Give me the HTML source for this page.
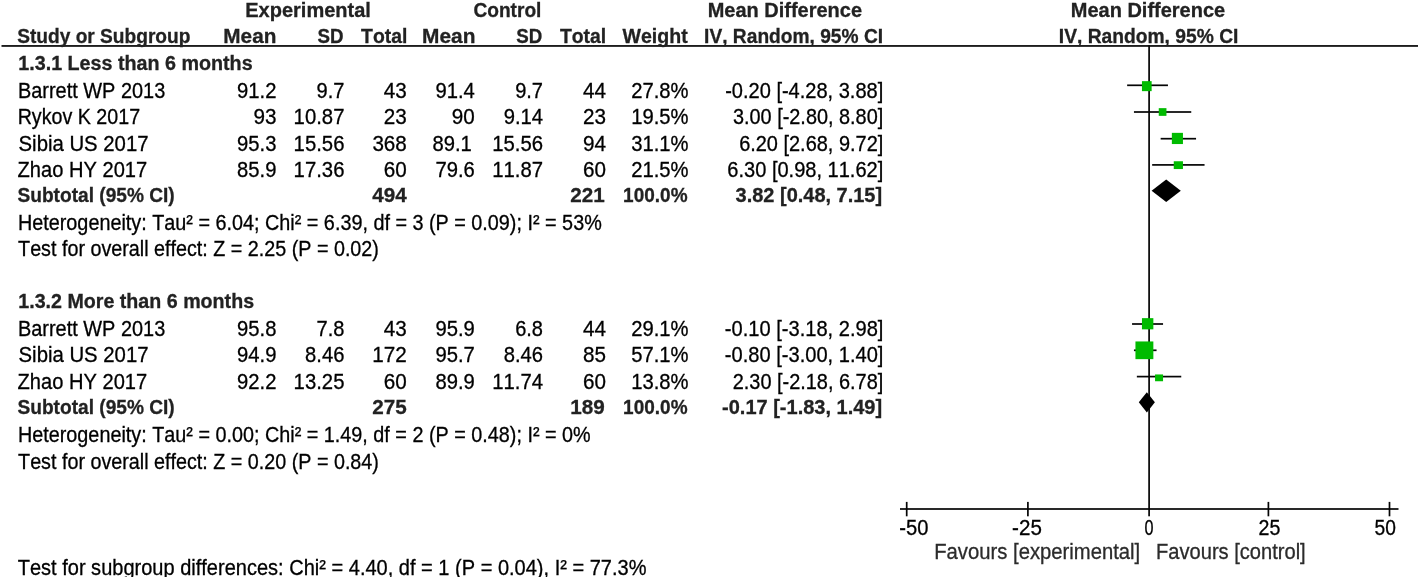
<!DOCTYPE html>
<html lang="en"><head><meta charset="utf-8"><title>Forest plot</title>
<style>
html,body{margin:0;padding:0;background:#fff;}
body{width:1418px;height:577px;overflow:hidden;}
svg{display:block;font-family:"Liberation Sans",Arial,sans-serif;font-kerning:none;}
text{white-space:pre;}
.n{fill:#000;stroke:#000;stroke-width:0.3px;font-weight:400;font-size:21.4px;}
.f{fill:#2b2b2b;stroke:#2b2b2b;}
.b{fill:#222;stroke:#222;stroke-width:0.3px;font-weight:700;font-size:21.1px;}
</style></head><body>
<svg width="1418" height="577" viewBox="0 0 1418 577">
<rect width="1418" height="577" fill="#fff"/>
<g shape-rendering="geometricPrecision">
<rect x="1.5" y="45.1" width="1416.5" height="1.7" fill="#050505"/>
<rect x="1148.25" y="45.1" width="1.7" height="471.20" fill="#050505"/>
<rect x="900" y="508.15" width="498.50" height="1.7" fill="#050505"/>
<rect x="905.85" y="501.9" width="1.7" height="14.4" fill="#050505"/>
<rect x="1027.05" y="501.9" width="1.7" height="14.4" fill="#050505"/>
<rect x="1267.55" y="501.9" width="1.7" height="14.4" fill="#050505"/>
<rect x="1388.65" y="501.9" width="1.7" height="14.4" fill="#050505"/>
<rect x="1127.15" y="84.45" width="40.80" height="1.7" fill="#050505"/>
<rect x="1141.95" y="81.15" width="9.70" height="10.00" fill="#00bb00"/>
<rect x="1133.95" y="111.15" width="57.30" height="1.7" fill="#050505"/>
<rect x="1158.75" y="108.15" width="7.70" height="7.70" fill="#00bb00"/>
<rect x="1160.65" y="137.85" width="35.40" height="1.7" fill="#050505"/>
<rect x="1171.85" y="132.85" width="11.10" height="11.20" fill="#00bb00"/>
<rect x="1152.15" y="164.05" width="52.40" height="1.7" fill="#050505"/>
<rect x="1173.75" y="161.25" width="9.20" height="7.80" fill="#00bb00"/>
<polygon points="1151.60,190.75 1166.20,179.40 1180.80,190.75 1166.20,202.10" fill="#000"/>
<rect x="1132.05" y="323.15" width="31.00" height="1.7" fill="#050505"/>
<rect x="1141.95" y="318.15" width="11.40" height="11.20" fill="#00bb00"/>
<rect x="1133.95" y="349.45" width="22.60" height="1.7" fill="#050505"/>
<rect x="1135.45" y="341.45" width="17.90" height="17.70" fill="#00bb00"/>
<rect x="1136.85" y="375.75" width="44.40" height="1.7" fill="#050505"/>
<rect x="1155.05" y="374.45" width="8.00" height="6.80" fill="#00bb00"/>
<polygon points="1138.80,402.30 1146.85,392.20 1154.90,402.30 1146.85,412.40" fill="#000"/>
</g>
<g>
<text class="b" transform="translate(245.25 16.55) scale(0.9488 1)">Experimental</text>
<text class="b" transform="translate(473.40 16.55) scale(0.9070 1)">Control</text>
<text class="b" transform="translate(707.65 16.55) scale(0.9476 1)">Mean Difference</text>
<text class="b" transform="translate(1070.75 16.55) scale(0.9482 1)">Mean Difference</text>
<text class="b" transform="translate(17.20 42.95) scale(0.9077 1)">Study or Subgroup</text>
<text class="b" transform="translate(223.30 42.95) scale(0.9846 1)">Mean</text>
<text class="b" transform="translate(317.61 42.95) scale(0.8885 1)">SD</text>
<text class="b" transform="translate(361.10 42.95) scale(0.9196 1)">Total</text>
<text class="b" transform="translate(422.09 42.95) scale(0.9904 1)">Mean</text>
<text class="b" transform="translate(516.21 42.95) scale(0.8885 1)">SD</text>
<text class="b" transform="translate(559.90 42.95) scale(0.9196 1)">Total</text>
<text class="b" transform="translate(622.50 42.95) scale(0.9272 1)">Weight</text>
<text class="b" transform="translate(704.10 42.95) scale(0.9089 1)">IV, Random, 95% CI</text>
<text class="b" transform="translate(1058.80 42.95) scale(0.9120 1)">IV, Random, 95% CI</text>
<text class="b" transform="translate(18.27 69.60) scale(0.9346 1)">1.3.1 Less than 6 months</text>
<text class="n" transform="translate(17.94 97.95) scale(0.9322 1)">Barrett WP 2013</text>
<text class="n" transform="translate(237.07 97.95) scale(0.9448 1)">91.2</text>
<text class="n" transform="translate(316.54 97.95) scale(0.9369 1)">9.7</text>
<text class="n" transform="translate(383.86 97.95) scale(0.9655 1)">43</text>
<text class="n" transform="translate(435.47 97.95) scale(0.9445 1)">91.4</text>
<text class="n" transform="translate(515.14 97.95) scale(0.9369 1)">9.7</text>
<text class="n" transform="translate(582.96 97.95) scale(0.9648 1)">44</text>
<text class="n" transform="translate(631.26 97.95) scale(0.9453 1)">27.8%</text>
<text class="n" transform="translate(725.17 97.95) scale(0.9365 1)">-0.20 [-4.28, 3.88]</text>
<text class="n" transform="translate(17.66 124.25) scale(0.9197 1)">Rykov K 2017</text>
<text class="n" transform="translate(253.43 124.25) scale(0.9669 1)">93</text>
<text class="n" transform="translate(293.60 124.25) scale(0.9492 1)">10.87</text>
<text class="n" transform="translate(383.83 124.25) scale(0.9669 1)">23</text>
<text class="n" transform="translate(451.83 124.25) scale(0.9662 1)">90</text>
<text class="n" transform="translate(503.67 124.25) scale(0.9445 1)">9.14</text>
<text class="n" transform="translate(582.93 124.25) scale(0.9669 1)">23</text>
<text class="n" transform="translate(631.25 124.25) scale(0.9454 1)">19.5%</text>
<text class="n" transform="translate(732.98 124.25) scale(0.9295 1)">3.00 [-2.80, 8.80]</text>
<text class="n" transform="translate(18.56 150.55) scale(0.9507 1)">Sibia US 2017</text>
<text class="n" transform="translate(237.07 150.55) scale(0.9448 1)">95.3</text>
<text class="n" transform="translate(293.60 150.55) scale(0.9492 1)">15.56</text>
<text class="n" transform="translate(372.38 150.55) scale(0.9651 1)">368</text>
<text class="n" transform="translate(432.48 150.55) scale(0.9445 1)">89.1</text>
<text class="n" transform="translate(492.20 150.55) scale(0.9492 1)">15.56</text>
<text class="n" transform="translate(582.93 150.55) scale(0.9662 1)">94</text>
<text class="n" transform="translate(631.27 150.55) scale(0.9451 1)">31.1%</text>
<text class="n" transform="translate(739.16 150.55) scale(0.9323 1)">6.20 [2.68, 9.72]</text>
<text class="n" transform="translate(17.57 176.95) scale(0.9402 1)">Zhao HY 2017</text>
<text class="n" transform="translate(237.08 176.95) scale(0.9445 1)">85.9</text>
<text class="n" transform="translate(293.60 176.95) scale(0.9492 1)">17.36</text>
<text class="n" transform="translate(383.83 176.95) scale(0.9662 1)">60</text>
<text class="n" transform="translate(435.47 176.95) scale(0.9448 1)">79.6</text>
<text class="n" transform="translate(492.20 176.95) scale(0.9492 1)">11.87</text>
<text class="n" transform="translate(582.93 176.95) scale(0.9662 1)">60</text>
<text class="n" transform="translate(631.26 176.95) scale(0.9453 1)">21.5%</text>
<text class="n" transform="translate(727.36 176.95) scale(0.9366 1)">6.30 [0.98, 11.62]</text>
<text class="b" transform="translate(17.50 201.85) scale(0.9072 1)">Subtotal (95% CI)</text>
<text class="b" transform="translate(372.31 201.85) scale(0.9766 1)">494</text>
<text class="b" transform="translate(570.18 201.85) scale(0.9784 1)">221</text>
<text class="b" transform="translate(623.11 201.85) scale(0.9007 1)">100.0%</text>
<text class="b" transform="translate(735.59 201.85) scale(0.9471 1)">3.82 [0.48, 7.15]</text>
<text class="n" transform="translate(17.95 230.00) scale(0.9255 1)">Heterogeneity: Tau² = 6.04; Chi² = 6.39, df = 3 (P = 0.09); I² = 53%</text>
<text class="n" transform="translate(18.09 256.45) scale(0.9223 1)">Test for overall effect: Z = 2.25 (P = 0.02)</text>
<text class="b" transform="translate(18.27 308.25) scale(0.9320 1)">1.3.2 More than 6 months</text>
<text class="n" transform="translate(17.94 335.95) scale(0.9322 1)">Barrett WP 2013</text>
<text class="n" transform="translate(237.07 335.95) scale(0.9448 1)">95.8</text>
<text class="n" transform="translate(316.54 335.95) scale(0.9369 1)">7.8</text>
<text class="n" transform="translate(383.86 335.95) scale(0.9655 1)">43</text>
<text class="n" transform="translate(435.47 335.95) scale(0.9448 1)">95.9</text>
<text class="n" transform="translate(515.14 335.95) scale(0.9369 1)">6.8</text>
<text class="n" transform="translate(582.96 335.95) scale(0.9648 1)">44</text>
<text class="n" transform="translate(631.26 335.95) scale(0.9453 1)">29.1%</text>
<text class="n" transform="translate(724.87 335.95) scale(0.9383 1)">-0.10 [-3.18, 2.98]</text>
<text class="n" transform="translate(18.56 362.35) scale(0.9507 1)">Sibia US 2017</text>
<text class="n" transform="translate(237.07 362.35) scale(0.9448 1)">94.9</text>
<text class="n" transform="translate(305.08 362.35) scale(0.9445 1)">8.46</text>
<text class="n" transform="translate(372.35 362.35) scale(0.9661 1)">172</text>
<text class="n" transform="translate(435.47 362.35) scale(0.9448 1)">95.7</text>
<text class="n" transform="translate(503.68 362.35) scale(0.9445 1)">8.46</text>
<text class="n" transform="translate(582.94 362.35) scale(0.9662 1)">85</text>
<text class="n" transform="translate(631.27 362.35) scale(0.9451 1)">57.1%</text>
<text class="n" transform="translate(724.87 362.35) scale(0.9383 1)">-0.80 [-3.00, 1.40]</text>
<text class="n" transform="translate(17.57 389.05) scale(0.9402 1)">Zhao HY 2017</text>
<text class="n" transform="translate(237.07 389.05) scale(0.9448 1)">92.2</text>
<text class="n" transform="translate(293.60 389.05) scale(0.9492 1)">13.25</text>
<text class="n" transform="translate(383.83 389.05) scale(0.9662 1)">60</text>
<text class="n" transform="translate(435.48 389.05) scale(0.9445 1)">89.9</text>
<text class="n" transform="translate(492.20 389.05) scale(0.9490 1)">11.74</text>
<text class="n" transform="translate(582.93 389.05) scale(0.9662 1)">60</text>
<text class="n" transform="translate(631.25 389.05) scale(0.9454 1)">13.8%</text>
<text class="n" transform="translate(732.77 389.05) scale(0.9308 1)">2.30 [-2.18, 6.78]</text>
<text class="b" transform="translate(17.50 413.70) scale(0.9072 1)">Subtotal (95% CI)</text>
<text class="b" transform="translate(372.28 413.70) scale(0.9784 1)">275</text>
<text class="b" transform="translate(570.15 413.70) scale(0.9793 1)">189</text>
<text class="b" transform="translate(623.11 413.70) scale(0.9007 1)">100.0%</text>
<text class="b" transform="translate(722.07 413.70) scale(0.9483 1)">-0.17 [-1.83, 1.49]</text>
<text class="n" transform="translate(17.95 441.95) scale(0.9252 1)">Heterogeneity: Tau² = 0.00; Chi² = 1.49, df = 2 (P = 0.48); I² = 0%</text>
<text class="n" transform="translate(18.09 468.55) scale(0.9223 1)">Test for overall effect: Z = 0.20 (P = 0.84)</text>
<text class="n" transform="translate(17.69 574.55) scale(0.9358 1)">Test for subgroup differences: Chi² = 4.40, df = 1 (P = 0.04), I² = 77.3%</text>
<text class="n" transform="translate(899.37 534.80) scale(0.9419 1)">-50</text>
<text class="n" transform="translate(1012.06 534.80) scale(0.9628 1)">-25</text>
<text class="n" transform="translate(1144.39 534.80) scale(0.7570 1)">0</text>
<text class="n" transform="translate(1258.58 534.80) scale(0.9164 1)">25</text>
<text class="n" transform="translate(1374.60 534.80) scale(0.8982 1)">50</text>
<text class="n f" transform="translate(934.22 559.15) scale(0.9468 1)">Favours [experimental]</text>
<text class="n f" transform="translate(1156.03 559.15) scale(0.9397 1)">Favours [control]</text>
</g>
</svg>
</body></html>
